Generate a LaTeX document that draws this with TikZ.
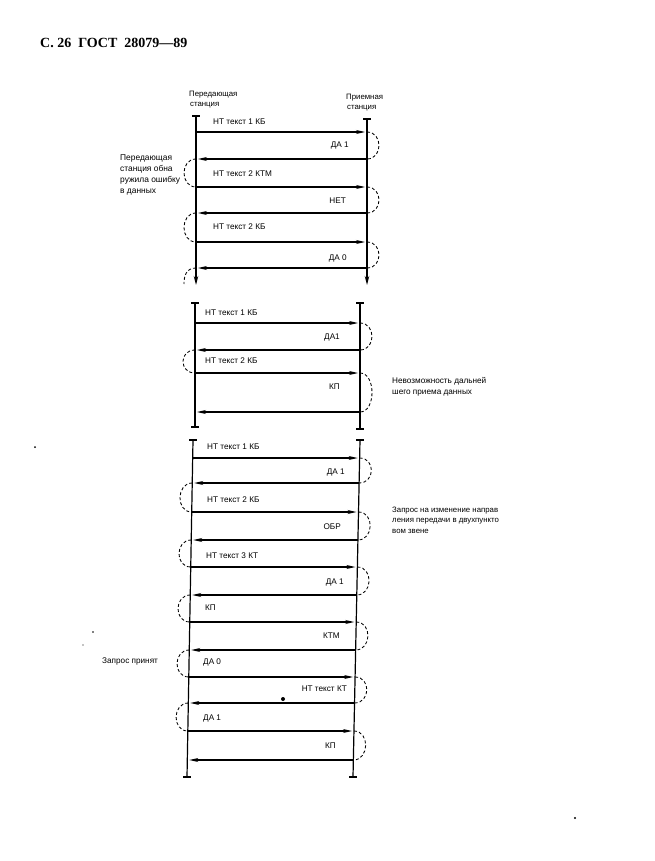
\documentclass[tikz,border=0pt]{standalone}
\usepackage{fontspec}
\setmainfont{Liberation Sans}
\newfontfamily\hdrfont{Liberation Serif}
\usetikzlibrary{arrows.meta}
\begin{document}
\begin{tikzpicture}[x=1pt,y=-1pt,
  life/.style={line width=1.2pt},
  lifearrow/.style={line width=1.2pt,-{Stealth[length=9pt,width=4.5pt]}},
  msg/.style={line width=1.1pt,-{Stealth[length=9pt,width=4pt]},shorten >=2pt},
  loopline/.style={line width=0.85pt,dash pattern=on 3pt off 2.2pt},
  lbl/.style={inner sep=0pt,font=\fontsize{8.2}{9}\selectfont},
  note/.style={inner sep=0pt,font=\fontsize{8.4}{11}\selectfont,align=left,anchor=north west},
  small/.style={inner sep=0pt,font=\fontsize{7.8}{10.2}\selectfont,align=left,anchor=north west},
  tick/.style={line width=1.2pt}]
\useasboundingbox (0,0) rectangle (655,861);
\fill[white] (0,0) rectangle (655,861);

% header
\node[inner sep=0pt,anchor=west,font=\hdrfont\bfseries\fontsize{14}{16}\selectfont] (hdr) at (40,43) {С.\ 26 \ ГОСТ \ 28079—89};

% ================= diagram 1 =================
\node[small,anchor=west] (st1a) at (189,95) {Передающая};
\node[small,anchor=west] (st1b) at (190,105) {станция};
\node[small,anchor=west] (st2a) at (346,98) {Приемная};
\node[small,anchor=west] (st2b) at (347,108) {станция};

\coordinate (pT) at (196,116); \coordinate (pB) at (196,285);
\coordinate (qT) at (367,119); \coordinate (qB) at (367,285);
\draw[lifearrow] (pT) -- (pB);
\draw[lifearrow] (qT) -- (qB);
\draw[tick] ([xshift=-4pt]pT) -- ([xshift=4pt]pT);
\draw[tick] ([xshift=-4pt]qT) -- ([xshift=4pt]qT);

\foreach \n/\y in {1/132,2/159,3/187,4/213,5/242,6/268} {
  \coordinate (p\n) at (196,\y);
  \coordinate (q\n) at (367,\y);
}
\foreach \a/\b in {1/2,3/4,5/6} {
  \draw[msg] (p\a) -- (q\a);
  \draw[msg] (q\b) -- (p\b);
  \draw[loopline] (q\a) .. controls +(16,0) and +(16,0) .. (q\b);
}
\foreach \a/\b in {2/3,4/5} {
  \draw[loopline] (p\a) .. controls +(-16,0) and +(-16,0) .. (p\b);
}
\coordinate (p7) at (184,284);
\draw[loopline] (p6) .. controls +(-10,0) and +(0,-8) .. (p7);

\node[lbl,anchor=west] (m1) at (213,122) {НТ текст 1 КБ};
\node[lbl,anchor=east] (m2) at (349,145) {ДА 1};
\node[lbl,anchor=west] (m3) at (213,174) {НТ текст 2 КТМ};
\node[lbl,anchor=east] (m4) at (346,201) {НЕТ};
\node[lbl,anchor=west] (m5) at (213,227) {НТ текст 2 КБ};
\node[lbl,anchor=east] (m6) at (347,258) {ДА 0};

\node[note] (n1) at (120,155) {Передающая\\станция обна\\ружила ошибку\\в данных};

% ================= diagram 2 =================
\coordinate (rT) at (195,303); \coordinate (rB) at (195,427);
\coordinate (sT) at (360,303); \coordinate (sB) at (360,429);
\draw[life] (rT) -- (rB);
\draw[life] (sT) -- (sB);
\foreach \c in {rT,rB,sT,sB} {
  \draw[tick] ([xshift=-4pt]\c) -- ([xshift=4pt]\c);
}
\foreach \n/\y in {1/323,2/350,3/373,4/412} {
  \coordinate (r\n) at (195,\y);
  \coordinate (s\n) at (360,\y);
}
\foreach \a/\b in {1/2,3/4} {
  \draw[msg] (r\a) -- (s\a);
  \draw[msg] (s\b) -- (r\b);
  \draw[loopline] (s\a) .. controls +(16,0) and +(16,0) .. (s\b);
}
\draw[loopline] (r2) .. controls +(-16,0) and +(-16,0) .. (r3);

\node[lbl,anchor=west] (k1) at (205,313) {НТ текст 1 КБ};
\node[lbl,anchor=east] (k2) at (340,337) {ДА1};
\node[lbl,anchor=west] (k3) at (205,361) {НТ текст 2 КБ};
\node[lbl,anchor=east] (k4) at (340,387) {КП};
\node[small,font=\fontsize{8.2}{11}\selectfont] (n2) at (392,377) {Невозможность дальней\\шего приема данных};

% ================= diagram 3 =================
\coordinate (uT) at (193,440); \coordinate (uB) at (187,777);
\coordinate (vT) at (360,440); \coordinate (vB) at (353,777);
\draw[life] (uT) -- (uB);
\draw[life] (vT) -- (vB);
\foreach \c in {uT,uB,vT,vB} {
  \draw[tick] ([xshift=-4pt]\c) -- ([xshift=4pt]\c);
}
\foreach \n/\y in {1/458,2/483,3/512,4/540,5/567,6/595,7/622,8/650,9/677,10/703,11/731,12/760} {
  \pgfmathsetmacro\xa{193-6*(\y-440)/337}
  \pgfmathsetmacro\xb{360-7*(\y-440)/337}
  \coordinate (u\n) at (\xa,\y);
  \coordinate (v\n) at (\xb,\y);
}
\foreach \a/\b in {1/2,3/4,5/6,7/8,9/10,11/12} {
  \draw[msg] (u\a) -- (v\a);
  \draw[msg] (v\b) -- (u\b);
  \draw[loopline] (v\a) .. controls +(16,0) and +(16,0) .. (v\b);
}
\foreach \a/\b in {2/3,4/5,6/7,8/9,10/11} {
  \draw[loopline] (u\a) .. controls +(-16,0) and +(-16,0) .. (u\b);
}

\node[lbl,anchor=west] (w1) at (207,447) {НТ текст 1 КБ};
\node[lbl,anchor=east] (w2) at (345,472) {ДА 1};
\node[lbl,anchor=west] (w3) at (207,500) {НТ текст 2 КБ};
\node[lbl,anchor=east] (w4) at (341,527) {ОБР};
\node[lbl,anchor=west] (w5) at (206,556) {НТ текст 3 КТ};
\node[lbl,anchor=east] (w6) at (344,582) {ДА 1};
\node[lbl,anchor=west] (w7) at (205,608) {КП};
\node[lbl,anchor=east] (w8) at (340,636) {КТМ};
\node[lbl,anchor=west] (w9) at (203,662) {ДА 0};
\node[lbl,anchor=east] (w10) at (347,689) {НТ текст КТ};
\node[lbl,anchor=west] (w11) at (203,718) {ДА 1};
\node[lbl,anchor=east] (w12) at (336,746) {КП};

\node[small] (n3) at (392,507) {Запрос на изменение направ\\ления передачи в двухпункто\\вом звене};
\node[lbl,anchor=west] (n4) at (102,661) {Запрос принят};

\fill (283,699) circle (2pt);
% scan specks
\fill (35,447) circle (1pt);
\fill (575,818) circle (1.2pt);
\fill (93,632) circle (0.9pt);
\fill (83,645) circle (0.6pt);
\end{tikzpicture}
\end{document}
